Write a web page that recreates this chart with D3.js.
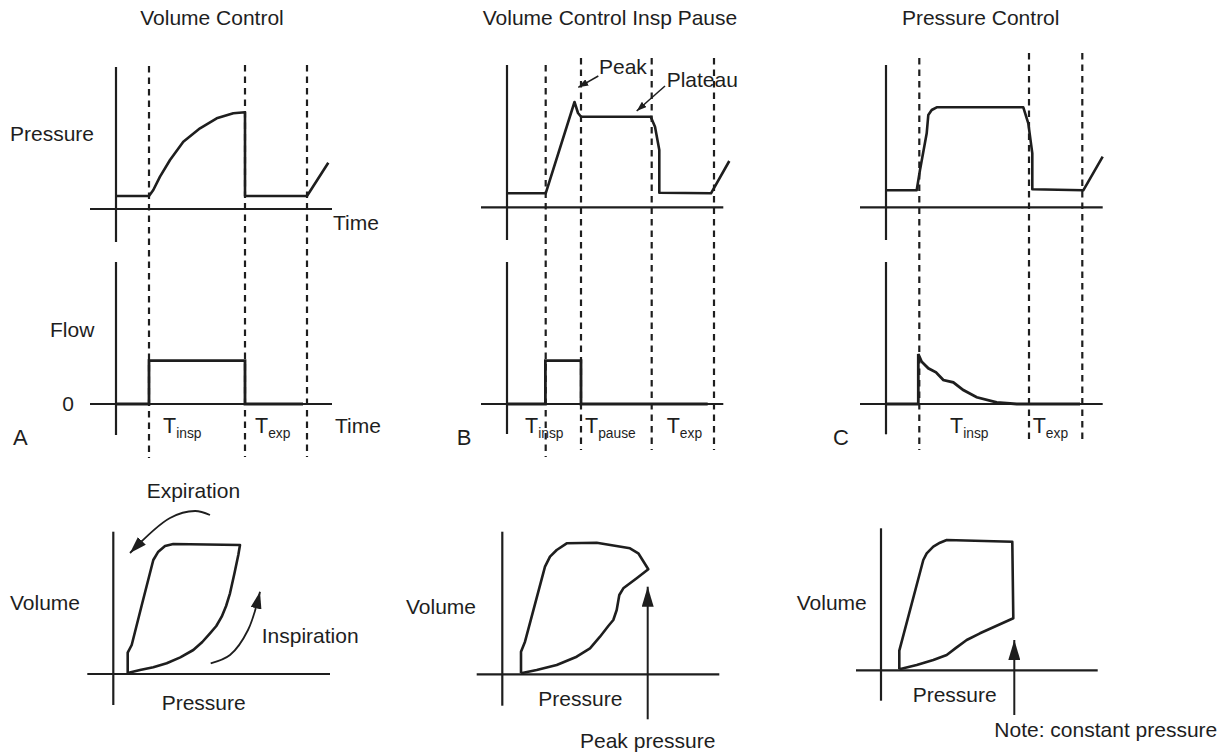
<!DOCTYPE html>
<html><head><meta charset="utf-8">
<script src="https://cdn.jsdelivr.net/npm/d3@7"></script>
<style>
body{margin:0;background:#fff;}
svg text{font-family:"Liberation Sans",Arial,Helvetica,sans-serif;fill:#1e1e1e;}
</style></head><body>
<svg id="chart" width="1228" height="753"></svg>
<script>
// ---------------- DATA (arbitrary units, origin at the axes' crossing) ----------------
const panelTitles = ["Volume Control", "Volume Control Insp Pause", "Pressure Control"];
const panelLetters = ["A", "B", "C"];

// breath phase boundaries (time units)
const phasesA = [16.5, 64.5, 95.5];
const phasesB = [19.35, 37, 72.35, 103.5];
const phasesC = [16.65, 71.5, 98.15];

// pressure–time waveforms [time, pressure]
const pressureA = [[0,6.5],[16.5,6.5],[18.65,9.5],[22,16.15],[27,24.5],[33.65,33.65],[42,40.35],[50.35,45.35],[58.65,47.85],[64.5,48.35],[64.5,6.5],[95.5,6.5],[106.15,23.15]];
const pressureB = [[0,7],[19.35,7],[33.75,52.65],[35.5,47.15],[37,45.3],[71.85,45.3],[74,40.3],[76.15,28.65],[76.15,7.3],[102,7],[111.15,23.15]];
const pressureC = [[0,8.5],[15.35,8.5],[17,18.65],[20.35,37],[21.15,46.15],[22.85,48.65],[25.35,50],[68.65,50],[71.15,42],[73.15,27],[73.15,9],[98.65,8.5],[108.35,25.3]];

// flow–time waveforms [time, flow]
const flowA = [[0,0],[16.5,0],[16.5,21.7],[64.5,21.7],[64.5,0],[93.5,0]];
const flowB = [[0,0],[19.2,0],[19.2,21.7],[37,21.7],[37,0],[100.35,0]];
const flowC = [[0,0],[16.15,0],[16.15,25],[17.85,21.15],[21.15,17.85],[25,15.85],[28.65,12],[33.65,10.85],[38.65,7],[45.35,3.35],[55.35,0.85],[65.35,0],[97,0]];

// phase labels: [main, subscript, time position]
const phaseLabelsA = [["T","insp",23.5],["T","exp",69.5]];
const phaseLabelsB = [["T","insp",9],["T","pause",39],["T","exp",79.85]];
const phaseLabelsC = [["T","insp",32],["T","exp",73.35]];

// pressure–volume loops [pressure, volume]
const loopA = [[7.2,0.5],[7.2,10.65],[9.2,14.5],[14.5,35.5],[20,57],[22.5,61.15],[25.85,64],[30,65],[63.35,64.5],[62.5,59.5],[60.5,50],[58.35,40.35],[56.4,34],[54.2,28.65],[51.5,24],[48.35,20.35],[44.5,16],[40,12],[33.5,8.3],[26.7,5.35],[20,3.4],[13.35,2],[7.2,0.5]];
const loopB = [[9.35,0.5],[9.35,11.3],[11.35,16.3],[21.35,53.8],[23.85,58.8],[27.2,62.15],[32.2,65.5],[47.2,65.8],[63.85,63],[68,60.5],[73,52.5],[67.2,48],[60.5,43],[58.5,39.65],[57.2,32.15],[55.5,27.15],[53,24.15],[48.85,18.8],[43.85,13],[37.2,8.8],[27.2,4.65],[17.2,2.15],[9.35,0.5]];
const loopC = [[9.15,0.5],[9.15,9.8],[21.15,55.15],[22.85,58.5],[26.15,61.8],[29.5,63.8],[32.85,65.15],[65.65,64.3],[66.15,26],[49.5,18.5],[42.85,15.15],[37.5,11.2],[32.85,7.65],[26.15,5.15],[17.85,2.65],[9.15,0.5]];

// annotation arrows
const expirationArrow = [[48.35,79.5],[40.85,81.5],[28.35,78],[8.35,60.5]];
const inspirationArrow = [[48.7,5.35],[58.35,9.5],[67.35,22],[73.35,41.15]];
const peakArrow = [[45.65,65.65],[35.65,60]];
const plateauArrow = [[79,60.65],[64.85,48.15]];
const peakPressureArrow = [[72.7,-22.5],[72.7,43.8]];
const constantPressureArrow = [[66.65,-22.35],[66.65,15.15]];

// ---------------- LAYOUT ----------------
const svg = d3.select("#chart");
const ink = "#1e1e1e";
const FS = 21;

const defs = svg.append("defs");
function marker(id, len, wid) {
  defs.append("marker").attr("id", id)
    .attr("viewBox", `0 0 ${len} ${wid}`).attr("refX", len).attr("refY", wid/2)
    .attr("markerWidth", len).attr("markerHeight", wid)
    .attr("markerUnits", "userSpaceOnUse").attr("orient", "auto")
    .append("path").attr("d", `M0,0L${len},${wid/2}L0,${wid}Z`).attr("fill", ink);
}
marker("ahSmall", 10, 7);
marker("ahMid", 17, 11);
marker("ahBig", 20, 12);

const panels = [
  {ox:116, oyP:209, oyF:404, pressure:pressureA, flow:flowA, phases:phasesA, labels:phaseLabelsA,
   dashTop:[66,65,65], dashBot:[458,457,457], axTopP:67, axBotP:242, axTopF:262, axBotF:435,
   titleX:212, letterX:13, loop:loopA, lox:113.3, loy:674, lyTop:531.7, lyBot:705, lxL:87.3, lxR:330,
   axL:90, axR:332},
  {ox:507, oyP:207.3, oyF:404, pressure:pressureB, flow:flowB, phases:phasesB, labels:phaseLabelsB,
   dashTop:[65,58,58,58], dashBot:[457,450,450,450], axTopP:65, axBotP:240, axTopF:262, axBotF:434,
   titleX:610, letterX:456.7, loop:loopB, lox:502.3, loy:674.3, lyTop:531.7, lyBot:705.7, lxL:476.7, lxR:719.3,
   axL:481, axR:723.3},
  {ox:886, oyP:207.3, oyF:404, pressure:pressureC, flow:flowC, phases:phasesC, labels:phaseLabelsC,
   dashTop:[58,53,53], dashBot:[450,444,444], axTopP:65, axBotP:240, axTopF:262, axBotF:434.3,
   titleX:980.7, letterX:833, loop:loopC, lox:881, loy:670.3, lyTop:528.3, lyBot:700.7, lxL:856, lxR:1097.7,
   axL:860, axR:1102.7}
];

function txt(x, y, s, opts = {}) {
  return svg.append("text").attr("x", x).attr("y", y)
    .attr("font-size", opts.size || FS)
    .attr("text-anchor", opts.anchor || "start").text(s);
}
function seg(x1, y1, x2, y2, w, dash) {
  const l = svg.append("line").attr("x1", x1).attr("y1", y1).attr("x2", x2).attr("y2", y2)
    .attr("stroke", ink).attr("stroke-width", w);
  if (dash) l.attr("stroke-dasharray", dash);
  return l;
}

panels.forEach((p, i) => {
  const x = d3.scaleLinear().domain([0, 100]).range([p.ox, p.ox + 200]);
  const yP = d3.scaleLinear().domain([0, 100]).range([p.oyP, p.oyP - 200]);
  const yF = d3.scaleLinear().domain([0, 100]).range([p.oyF, p.oyF - 200]);

  // title
  txt(p.titleX, 25, panelTitles[i], {anchor: "middle"});

  // axes (pressure & flow)
  seg(x(0), p.axTopP, x(0), p.axBotP, 2.2);
  seg(p.axL, yP(0), p.axR, yP(0), 2.2);
  seg(x(0), p.axTopF, x(0), p.axBotF, 2.2);
  seg(p.axL, yF(0), p.axR, yF(0), 2.2);

  // dashed phase boundaries
  p.phases.forEach((t, k) => seg(x(t), p.dashTop[k], x(t), p.dashBot[k], 2.2, "6.5,5"));

  // waveforms
  const lineP = d3.line().x(d => x(d[0])).y(d => yP(d[1]));
  const lineF = d3.line().x(d => x(d[0])).y(d => yF(d[1]));
  svg.append("path").attr("d", lineP(p.pressure)).attr("fill", "none")
    .attr("stroke", ink).attr("stroke-width", 2.6).attr("stroke-linejoin", "round");
  svg.append("path").attr("d", lineF(p.flow)).attr("fill", "none")
    .attr("stroke", ink).attr("stroke-width", 2.8).attr("stroke-linejoin", "miter");

  // phase labels
  p.labels.forEach(([m, s, t]) => {
    const tx = svg.append("text").attr("x", x(t)).attr("y", 433).attr("font-size", 21.5);
    tx.append("tspan").text(m);
    tx.append("tspan").attr("font-size", 13.8).attr("dy", 4.8).text(s);
  });

  // panel letter
  txt(p.letterX, 445, panelLetters[i], {size: 22});

  // P-V loop
  const xL = d3.scaleLinear().domain([0, 100]).range([p.lox, p.lox + 200]);
  const yL = d3.scaleLinear().domain([0, 100]).range([p.loy, p.loy - 200]);
  seg(xL(0), p.lyTop, xL(0), p.lyBot, 2.2);
  seg(p.lxL, yL(0), p.lxR, yL(0), 2.2);
  const lineL = d3.line().x(d => xL(d[0])).y(d => yL(d[1]));
  svg.append("path").attr("d", lineL(p.loop)).attr("fill", "none")
    .attr("stroke", ink).attr("stroke-width", 2.6).attr("stroke-linejoin", "round");

  if (i === 0) {
    const curved = d3.line().x(d => xL(d[0])).y(d => yL(d[1])).curve(d3.curveCatmullRom.alpha(0.5));
    svg.append("path").attr("d", curved(expirationArrow)).attr("fill", "none")
      .attr("stroke", ink).attr("stroke-width", 1.8).attr("marker-end", "url(#ahMid)");
    svg.append("path").attr("d", curved(inspirationArrow)).attr("fill", "none")
      .attr("stroke", ink).attr("stroke-width", 1.8).attr("marker-end", "url(#ahMid)");
  }
  if (i === 1) {
    const straight = d3.line().x(d => xL(d[0])).y(d => yL(d[1]));
    svg.append("path").attr("d", straight(peakPressureArrow)).attr("fill", "none")
      .attr("stroke", ink).attr("stroke-width", 2).attr("marker-end", "url(#ahBig)");
    const ann = d3.line().x(d => x(d[0])).y(d => yP(d[1]));
    svg.append("path").attr("d", ann(peakArrow)).attr("fill", "none")
      .attr("stroke", ink).attr("stroke-width", 1.5).attr("marker-end", "url(#ahSmall)");
    svg.append("path").attr("d", ann(plateauArrow)).attr("fill", "none")
      .attr("stroke", ink).attr("stroke-width", 1.5).attr("marker-end", "url(#ahSmall)");
  }
  if (i === 2) {
    const straight = d3.line().x(d => xL(d[0])).y(d => yL(d[1]));
    svg.append("path").attr("d", straight(constantPressureArrow)).attr("fill", "none")
      .attr("stroke", ink).attr("stroke-width", 2).attr("marker-end", "url(#ahBig)");
  }
});

// axis & annotation labels
txt(10, 140.5, "Pressure");
txt(333, 230, "Time");
txt(50, 337, "Flow");
txt(68, 411, "0", {anchor: "middle"});
txt(335, 432.7, "Time");
txt(599, 74, "Peak");
txt(666.7, 87, "Plateau");

txt(146.7, 497.5, "Expiration");
txt(10, 609.5, "Volume");
txt(261.7, 643, "Inspiration");
txt(161.7, 709.5, "Pressure");

txt(406, 614, "Volume");
txt(538.3, 706, "Pressure");
txt(580, 748, "Peak pressure");

txt(796.7, 609.5, "Volume");
txt(912.7, 702, "Pressure");
txt(994.3, 737, "Note: constant pressure");
</script>
</body></html>
